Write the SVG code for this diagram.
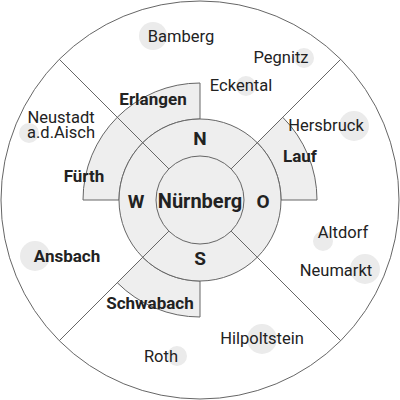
<svg xmlns="http://www.w3.org/2000/svg" width="400" height="400" viewBox="0 0 400 400">
<style>
.ln{stroke:#666;stroke-width:1;fill:none}
.sec{fill:#eeeeee;stroke:#666;stroke-width:1}
.dot{fill:#ebebeb}
.t{font-family:Roboto,"Liberation Sans",sans-serif;font-size:16.5px;fill:#222;text-anchor:middle}
.b{font-weight:bold;font-size:17px}
.c{font-weight:bold;font-size:19px}
.big{font-weight:bold;font-size:20px}
</style>
<rect width="400" height="400" fill="#fff"/>
<g id="outer"><circle cx="200" cy="200" r="199" fill="#fff" stroke="#666" stroke-width="1"/></g>
<g id="sectors">
<path class="sec" d="M83 200 A117 117 0 0 1 200 83 L200 119 A81 81 0 0 0 119 200 Z"/>
<path class="sec" d="M282.73 117.27 A117 117 0 0 1 317 200 L281 200 A81 81 0 0 0 257.28 142.72 Z"/>
<path class="sec" d="M117.27 282.73 A117 117 0 0 0 200 317 L200 281 A81 81 0 0 1 142.72 257.28 Z"/>
</g>
<g id="ring"><circle cx="200" cy="200" r="81" class="sec"/></g>
<g id="center"><circle cx="200" cy="200" r="44" class="sec"/></g>
<g id="connectors">
<line class="ln" x1="168.89" y1="168.89" x2="59.29" y2="59.29"/>
<line class="ln" x1="231.11" y1="168.89" x2="340.71" y2="59.29"/>
<line class="ln" x1="168.89" y1="231.11" x2="59.29" y2="340.71"/>
<line class="ln" x1="231.11" y1="231.11" x2="340.71" y2="340.71"/>
</g>
<g id="dots">
<circle class="dot" cx="153" cy="36" r="14"/>
<circle class="dot" cx="304" cy="58" r="10"/>
<circle class="dot" cx="246" cy="86" r="10"/>
<circle class="dot" cx="354" cy="126" r="15"/>
<circle class="dot" cx="29" cy="133" r="10"/>
<circle class="dot" cx="35" cy="256" r="15"/>
<circle class="dot" cx="177" cy="356" r="10"/>
<circle class="dot" cx="323" cy="241" r="10"/>
<circle class="dot" cx="365" cy="269" r="15"/>
<circle class="dot" cx="262" cy="339" r="15"/>
</g>
<g id="labels">
<text class="t" x="181" y="42">Bamberg</text>
<text class="t" x="281" y="63">Pegnitz</text>
<text class="t" x="241" y="91">Eckental</text>
<text class="t" x="326" y="131">Hersbruck</text>
<text class="t b" x="300" y="162">Lauf</text>
<text class="t b" x="153" y="105">Erlangen</text>
<text class="t" x="61" y="123">Neustadt</text>
<text class="t" x="61" y="138">a.d.Aisch</text>
<text class="t b" x="84" y="182">Fürth</text>
<text class="t b" x="67" y="262">Ansbach</text>
<text class="t b" x="150" y="309">Schwabach</text>
<text class="t" x="161" y="362">Roth</text>
<text class="t" x="262" y="344">Hilpoltstein</text>
<text class="t" x="343" y="238">Altdorf</text>
<text class="t" x="336" y="276">Neumarkt</text>
<text class="t c" x="200" y="145">N</text>
<text class="t c" x="136" y="208">W</text>
<text class="t c" x="263" y="208">O</text>
<text class="t c" x="200" y="265">S</text>
<text class="t big" x="200" y="208">Nürnberg</text>
</g>
</svg>
